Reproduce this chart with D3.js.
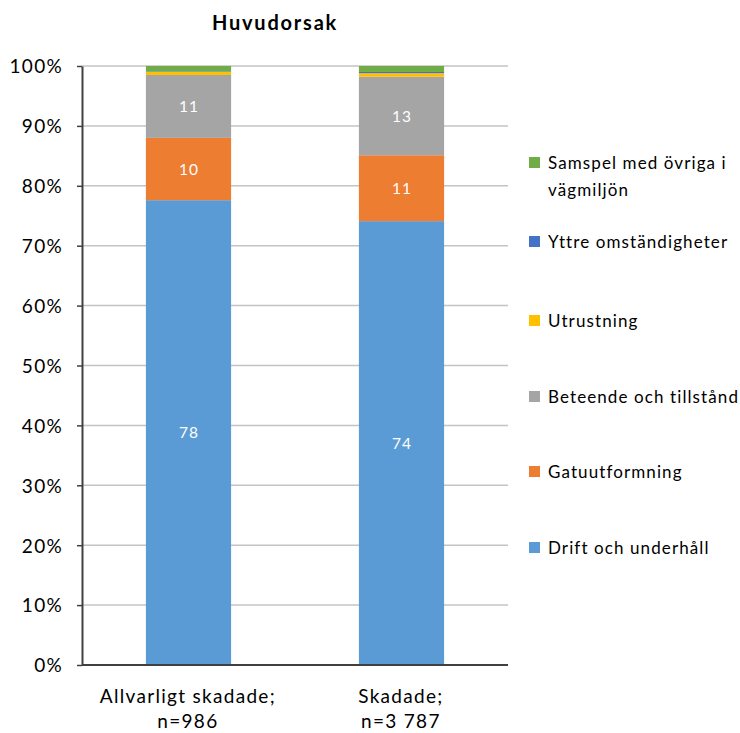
<!DOCTYPE html>
<html>
<head>
<meta charset="utf-8">
<script src="https://cdn.jsdelivr.net/npm/d3@7"></script>
<style>
  body { margin: 0; background: #fff; }
  svg { font-family: Lato, "Open Sans", sans-serif; }
</style>
</head>
<body>
<svg id="chart" width="740" height="733"></svg>
<script>
// Categories (two lines each on the x axis)
const categories = ["Allvarligt skadade;\nn=986", "Skadade;\nn=3 787"];

// Series, bottom to top, share in percent per category
const seriesNames = ["Drift och underhåll", "Gatuutformning", "Beteende och tillstånd",
                     "Utrustning", "Yttre omständigheter", "Samspel med övriga i vägmiljön"];
const driftValues      = [77.6, 74.1];
const gatuValues       = [10.4, 11.0];
const beteendeValues   = [10.5, 13.1];
const utrustningValues = [0.5, 0.6];
const yttreValues      = [0.1, 0.2];
const samspelValues    = [0.9, 1.0];
const seriesColors = ["#5b9bd5", "#ed7d31", "#a5a5a5", "#ffc000", "#4472c4", "#70ad47"];
const labelledSeries = [0, 1, 2];

const yTicks = [0, 10, 20, 30, 40, 50, 60, 70, 80, 90, 100];
const title = "Huvudorsak";

const allValues = [driftValues, gatuValues, beteendeValues, utrustningValues, yttreValues, samspelValues];
const rows = categories.map((c, i) => {
  const r = { category: c };
  seriesNames.forEach((s, k) => r[s] = allValues[k][i]);
  return r;
});
const stacked = d3.stack().keys(seriesNames)(rows);

const svg = d3.select("#chart");
const plotLeft = 82, plotRight = 508, plotTop = 66, plotBottom = 665;

const x = d3.scaleBand().domain(categories).range([plotLeft, plotRight]).paddingInner(0.6).paddingOuter(0.3);
const y = d3.scaleLinear().domain([0, 100]).range([plotBottom, plotTop]);

// Title
svg.append("text").attr("x", 275).attr("y", 30).attr("text-anchor", "middle")
  .attr("font-size", 20).attr("font-weight", "bold").attr("letter-spacing", 1.8)
  .attr("fill", "#000").text(title);

// Gridlines
svg.append("g").selectAll("line").data(yTicks.filter(t => t > 0)).join("line")
  .attr("x1", plotLeft).attr("x2", plotRight)
  .attr("y1", d => y(d)).attr("y2", d => y(d))
  .attr("stroke", "#c4c4c4").attr("stroke-width", 1.5);

// Bars
const layers = svg.append("g").selectAll("g").data(stacked).join("g")
  .attr("fill", (d, i) => seriesColors[i]);
layers.selectAll("rect").data(d => d).join("rect")
  .attr("x", d => x(d.data.category))
  .attr("width", x.bandwidth())
  .attr("y", d => y(d[1]))
  .attr("height", d => y(d[0]) - y(d[1]));

// Value labels inside the larger segments
stacked.forEach((layer, i) => {
  if (!labelledSeries.includes(i)) return;
  svg.append("g").selectAll("text").data(layer).join("text")
    .attr("x", d => x(d.data.category) + x.bandwidth() / 2 + 0.5)
    .attr("y", d => y((d[0] + d[1]) / 2) + 5.5)
    .attr("text-anchor", "middle").attr("font-size", 15.5).attr("letter-spacing", 1)
    .attr("fill", "#fff")
    .text(d => Math.round(d[1] - d[0]));
});

// Y axis
const yAxis = svg.append("g").attr("transform", `translate(${plotLeft},0)`)
  .call(d3.axisLeft(y).tickValues(yTicks).tickFormat(d => d + "%").tickSizeInner(5).tickSizeOuter(0));
yAxis.select(".domain").attr("stroke", "#404040").attr("stroke-width", 2);
yAxis.selectAll(".tick line").attr("stroke", "#404040").attr("stroke-width", 1.5);
yAxis.selectAll(".tick text").attr("font-size", 19).attr("letter-spacing", 1.3)
  .attr("fill", "#000").attr("x", -19).attr("dy", "0.36em")
  .attr("font-family", "Lato, sans-serif");

// X axis
const xAxis = svg.append("g").attr("transform", `translate(0,${plotBottom})`)
  .call(d3.axisBottom(x).tickSize(0).tickSizeOuter(0));
xAxis.select(".domain").attr("stroke", "#404040").attr("stroke-width", 2)
  .attr("d", `M${plotLeft},0H${plotRight}`);
xAxis.selectAll(".tick text").remove();
xAxis.selectAll(".tick").each(function(d) {
  const t = d3.select(this).append("text").attr("text-anchor", "middle")
    .attr("font-size", 19).attr("letter-spacing", 1.3).attr("fill", "#000")
    .attr("font-family", "Lato, sans-serif");
  d.split("\n").forEach((line, i) => {
    t.append("tspan").attr("x", -0.6).attr("y", 38 + i * 25).text(line);
  });
});

// Legend, top entry first
const legendY = [163, 242, 321, 397, 472, 548];
const legendLines = [["Samspel med övriga i", "vägmiljön"], ["Yttre omständigheter"], ["Utrustning"],
                     ["Beteende och tillstånd"], ["Gatuutformning"], ["Drift och underhåll"]];
const legend = svg.append("g");
legendY.forEach((ly, i) => {
  const k = seriesNames.length - 1 - i;
  legend.append("rect").attr("x", 529).attr("y", ly - 6).attr("width", 11).attr("height", 11)
    .attr("fill", seriesColors[k]);
  const t = legend.append("text").attr("font-size", 17).attr("letter-spacing", 1.1).attr("fill", "#000");
  legendLines[i].forEach((line, j) => {
    t.append("tspan").attr("x", 548).attr("y", ly + 6 + j * 27).text(line);
  });
});
</script>
</body>
</html>
